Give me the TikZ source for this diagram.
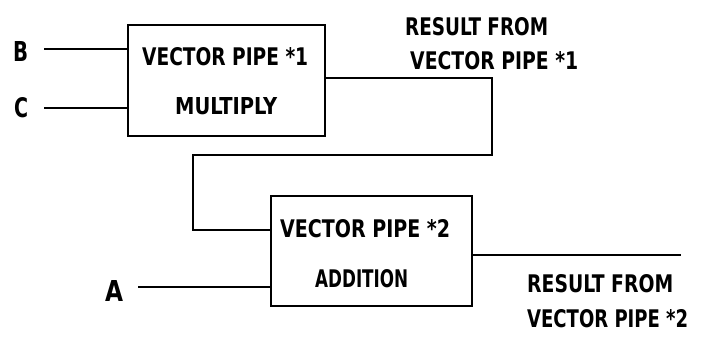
\documentclass[tikz,border=0pt]{standalone}
\usepackage{fontspec}
\setmainfont{DejaVu Sans Condensed}[BoldFont={DejaVu Sans Condensed Bold}]
\newcommand{\fitbox}[3]{\resizebox{#1pt}{#2pt}{#3}}
\begin{document}
\begin{tikzpicture}[x=1pt,y=-1pt,
  wire/.style={line width=1.8pt},
  pipebox/.style={draw,line width=1.8pt,rectangle,inner sep=0pt},
  lbl/.style={font=\bfseries\fontsize{24}{28}\selectfont,inner sep=0pt,anchor=west}]
\useasboundingbox (0,0) rectangle (701,337);
% boxes
\node[pipebox,minimum width=197pt,minimum height=111pt] (p1) at (226.5,80.5) {};
\node[pipebox,minimum width=201pt,minimum height=110pt] (p2) at (371.5,251) {};
% box texts
\node[lbl] (t1a) at (142,57) {\fitbox{166}{18}{VECTOR PIPE *1}};
\node[lbl] (t1b) at (175,106) {\fitbox{102}{17}{MULTIPLY}};
\node[lbl] (t2a) at (280,229) {\fitbox{170}{18}{VECTOR PIPE *2}};
\node[lbl] (t2b) at (315,279) {\fitbox{93}{18}{ADDITION}};
% input labels
\node[lbl] (B) at (13,51) {\fitbox{15}{20}{B}};
\node[lbl] (C) at (14,108) {\fitbox{14}{20}{C}};
\node[lbl] (A) at (105,291) {\fitbox{18}{21}{A}};
\coordinate (Bs) at (44,49);
\coordinate (Cs) at (44,108);
\coordinate (As) at (138,287);
\draw[wire] (Bs) -- (p1.west |- Bs);
\draw[wire] (Cs) -- (p1.west |- Cs);
\draw[wire] (As) -- (p2.west |- As);
% connection between pipes
\coordinate (k1) at (492,78);
\coordinate (k2) at (492,155);
\coordinate (k3) at (193,155);
\coordinate (k4) at (193,230);
\draw[wire] (p1.east |- k1) -- (k1) -- (k2) -- (k3) -- (k4) -- (p2.west |- k4);
% output
\coordinate (out) at (681,255);
\draw[wire] (p2.east |- out) -- (out);
% result labels
\node[lbl] (r1a) at (405,27) {\fitbox{143}{18}{RESULT FROM}};
\node[lbl] (r1b) at (410,61) {\fitbox{168}{18}{VECTOR PIPE *1}};
\node[lbl] (r2a) at (527,284) {\fitbox{146}{18}{RESULT FROM}};
\node[lbl] (r2b) at (527,319) {\fitbox{161}{18}{VECTOR PIPE *2}};
\end{tikzpicture}
\end{document}
